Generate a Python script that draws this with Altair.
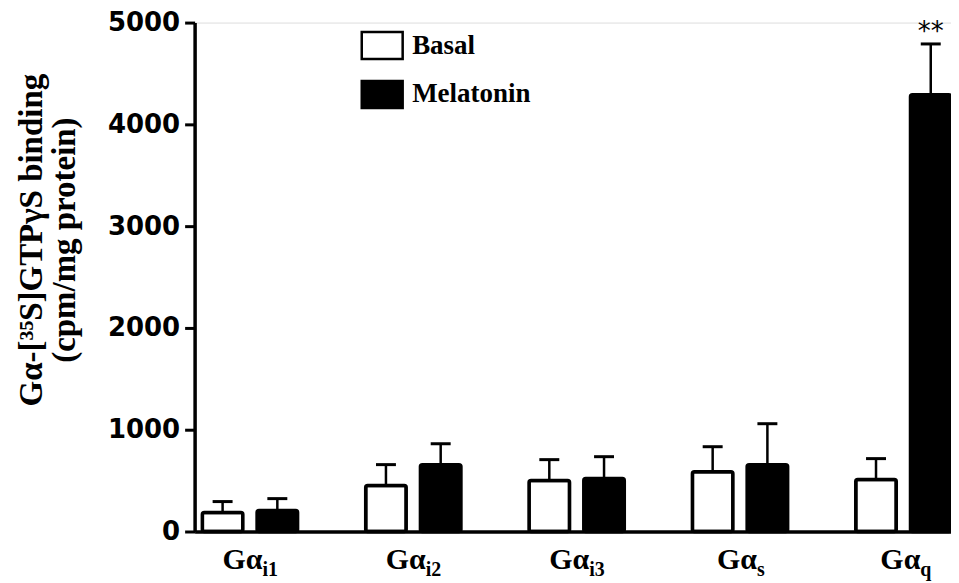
import altair as alt
import pandas as pd

# ---- data ----
groups = ["Gαi1", "Gαi2", "Gαi3", "Gαs", "Gαq"]
label_main = ["Gα", "Gα", "Gα", "Gα", "Gα"]
label_sub = ["i1", "i2", "i3", "s", "q"]
conditions = ["Basal", "Melatonin"]
basal_mean = [186, 451, 500, 588, 510]
basal_sem = [108, 206, 206, 245, 206]
mel_mean = [206, 657, 520, 657, 4290]
mel_sem = [117, 205, 215, 402, 500]
mel_sig = ["", "", "", "", "**"]
y_ticks = [0, 1000, 2000, 3000, 4000, 5000]
y_title = ["Gα-[³⁵S]GTPγS binding", "(cpm/mg protein)"]

rows = []
for i, g in enumerate(groups):
    rows.append(dict(group=g, cond="Basal", mean=basal_mean[i], sem=basal_sem[i], sig=""))
    rows.append(dict(group=g, cond="Melatonin", mean=mel_mean[i], sem=mel_sem[i], sig=mel_sig[i]))
df = pd.DataFrame(rows)
df["top"] = df["mean"] + df["sem"]

labels = pd.DataFrame(dict(group=groups, main=label_main, sub=label_sub))

x_enc = alt.X(
    "group:N",
    sort=groups,
    scale=alt.Scale(paddingInner=0.417, paddingOuter=0.0237, align=1),
    axis=alt.Axis(labels=False, ticks=False, title=None, domainWidth=3.5,
                  domainColor="black"),
)
xo_enc = alt.XOffset("cond:N", sort=conditions,
                     scale=alt.Scale(paddingInner=0.26, paddingOuter=0))

y_enc = alt.Y(
    "mean:Q",
    scale=alt.Scale(domain=[0, 5000], nice=False),
    axis=alt.Axis(
        values=y_ticks,
        format="d",
        grid=False,
        domainWidth=3.5,
        domainColor="black",
        tickWidth=3,
        tickSize=10,
        tickColor="black",
        labelFont="DejaVu Sans",
        labelFontWeight="bold",
        labelFontSize=26,
        labelColor="black",
        labelPadding=5,
        title=None,
    ),
)

bars = alt.Chart(df).mark_bar(stroke="black", strokeWidth=3.5, cornerRadius=2).encode(
    x=x_enc,
    xOffset=xo_enc,
    y=y_enc,
    fill=alt.Fill(
        "cond:N",
        scale=alt.Scale(domain=conditions, range=["white", "black"]),
        legend=alt.Legend(
            title=None,
            orient="none",
            legendX=166,
            legendY=1,
            symbolType="M-1,-0.66H1V0.66H-1Z",
            symbolSize=1681,
            symbolStrokeColor="black",
            symbolStrokeWidth=2.5,
            symbolOpacity=1,
            labelFont="Liberation Serif",
            labelFontSize=27,
            labelFontWeight="bold",
            labelColor="black",
            labelOffset=8,
            rowPadding=8,
            padding=0,
        ),
    ),
)

rules = alt.Chart(df).mark_rule(color="black", strokeWidth=2.5).encode(
    x=alt.X("group:N", sort=groups),
    xOffset=alt.XOffset("cond:N", sort=conditions),
    y="mean:Q",
    y2="top:Q",
)

caps = alt.Chart(df).mark_tick(color="black", thickness=3, size=20, opacity=1).encode(
    x=alt.X("group:N", sort=groups),
    xOffset=alt.XOffset("cond:N", sort=conditions),
    y="top:Q",
)

sig = alt.Chart(df).transform_filter("datum.sig != ''").mark_text(
    font="DejaVu Sans", fontSize=26, dy=-12, baseline="middle", color="black"
).encode(
    x=alt.X("group:N", sort=groups),
    xOffset=alt.XOffset("cond:N", sort=conditions),
    y="top:Q",
    text="sig:N",
)

label_layers = []
for n in (1, 2):
    dx = 21.5 - 4.5 * n
    base = alt.Chart(labels).transform_filter(f"length(datum.sub) == {n}")
    label_layers.append(
        base.mark_text(align="right", baseline="alphabetic", dx=dx,
                       font="Liberation Serif", fontWeight="bold", fontSize=30,
                       color="black").encode(
            x=alt.X("group:N", sort=groups), y=alt.value(548), text="main:N")
    )
    label_layers.append(
        base.mark_text(align="left", baseline="alphabetic", dx=dx,
                       font="Liberation Serif", fontWeight="bold", fontSize=20,
                       color="black").encode(
            x=alt.X("group:N", sort=groups), y=alt.value(555), text="sub:N")
    )

# y-axis title: two lines, placed left of the tick labels
title_df = pd.DataFrame(dict(line=y_title, idx=[0, 1]))
title_layers = []
for i, t in enumerate(y_title):
    title_layers.append(
        alt.Chart(title_df).transform_filter(f"datum.idx == {i}").mark_text(
            angle=270, align="center", baseline="middle",
            font="Liberation Serif", fontWeight="bold", fontSize=33,
            color="black",
        ).encode(x=alt.value(-163 + 33 * i), y=alt.value(218), text="line:N")
    )

chart = alt.layer(bars, rules, caps, sig, *label_layers, *title_layers).properties(
    width=758,
    height=510,
    autosize=alt.AutoSizeParams(type="none"),
    padding={"left": 187, "top": 14, "right": 0, "bottom": 50},
).configure_view(stroke=None).configure(background="white")

chart.save("out.html", embed_options={"renderer": "svg", "actions": False})
